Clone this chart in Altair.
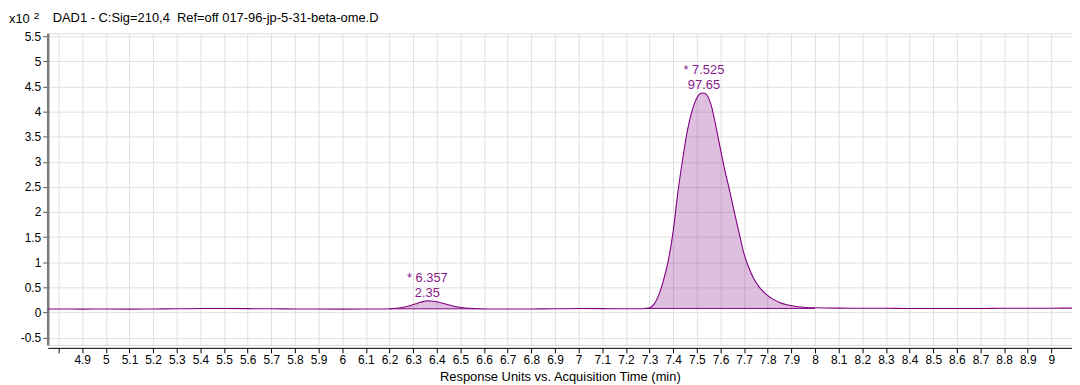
import altair as alt
import pandas as pd

FONT = "Liberation Sans"

# ---- data ----
times = [4.754, 4.80, 4.90, 5.00, 5.10, 5.20, 5.30, 5.40, 5.50, 5.60, 5.70, 5.80, 5.90, 6.00,
         6.10, 6.16, 6.20, 6.23, 6.26, 6.29, 6.32, 6.345, 6.36, 6.375, 6.40, 6.43, 6.46, 6.49,
         6.52, 6.56, 6.62, 6.70, 6.80, 6.90, 7.00, 7.10, 7.20, 7.25, 7.28, 7.30, 7.32, 7.34,
         7.36, 7.38, 7.40, 7.42, 7.44, 7.46, 7.48, 7.50, 7.515, 7.53, 7.545, 7.56, 7.58, 7.60,
         7.62, 7.64, 7.66, 7.68, 7.70, 7.72, 7.74, 7.76, 7.78, 7.80, 7.82, 7.85, 7.88, 7.92,
         7.96, 8.00, 8.10, 8.20, 8.30, 8.40, 8.50, 8.60, 8.70, 8.80, 8.90, 9.00, 9.087]
signal = [0.068, 0.068, 0.066, 0.068, 0.066, 0.070, 0.072, 0.078, 0.080, 0.076, 0.072, 0.070,
          0.068, 0.066, 0.068, 0.070, 0.075, 0.085, 0.105, 0.140, 0.185, 0.220, 0.230, 0.228,
          0.212, 0.180, 0.140, 0.108, 0.088, 0.076, 0.070, 0.068, 0.070, 0.072, 0.078, 0.076,
          0.072, 0.074, 0.080, 0.095, 0.17, 0.36, 0.66, 1.05, 1.62, 2.40, 3.05, 3.62, 4.02,
          4.27, 4.36, 4.37, 4.31, 4.14, 3.72, 3.25, 2.80, 2.40, 1.97, 1.56, 1.16, 0.89, 0.68,
          0.53, 0.42, 0.335, 0.27, 0.20, 0.155, 0.12, 0.10, 0.092, 0.086, 0.084, 0.082, 0.080,
          0.080, 0.078, 0.080, 0.082, 0.084, 0.085, 0.086]

peak_rt = [6.357, 7.525]
peak_area = [2.35, 97.65]
peak_apex_t = [6.36, 7.53]
peak_apex_y = [0.230, 4.37]
peak_start = [6.20, 7.28]
peak_end = [6.56, 8.00]
peak_base = [0.072, 0.080]

x_ticks = [4.8, 4.9, 5.0, 5.1, 5.2, 5.3, 5.4, 5.5, 5.6, 5.7, 5.8, 5.9, 6.0, 6.1, 6.2, 6.3, 6.4,
           6.5, 6.6, 6.7, 6.8, 6.9, 7.0, 7.1, 7.2, 7.3, 7.4, 7.5, 7.6, 7.7, 7.8, 7.9, 8.0, 8.1,
           8.2, 8.3, 8.4, 8.5, 8.6, 8.7, 8.8, 8.9, 9.0]
y_ticks = [-0.5, 0, 0.5, 1, 1.5, 2, 2.5, 3, 3.5, 4, 4.5, 5, 5.5]

title_text = "DAD1 - C:Sig=210,4 \u00a0Ref=off 017-96-jp-5-31-beta-ome.D"
x_title = "Response Units vs. Acquisition Time (min)"

X_DOMAIN = [4.754, 9.087]
Y_DOMAIN = [-0.646, 5.56]

LINE = "#800080"
TEXT = "#8a1a8a"

# ---- tables ----
trace = pd.DataFrame({"t": times, "v": signal})

fill_rows = []
for i in range(len(peak_start)):
    for t, v in zip(times, signal):
        if peak_start[i] <= t <= peak_end[i]:
            fill_rows.append({"t": t, "v": v, "base": peak_base[i], "peak": i})
fills = pd.DataFrame(fill_rows)

labels = pd.DataFrame({
    "t": peak_apex_t,
    "v": peak_apex_y,
    "l1": ["* " + format(r, ".3f") for r in peak_rt],
    "l2": [format(a, ".2f") for a in peak_area],
})

x_scale = alt.Scale(domain=X_DOMAIN, nice=False, zero=False)
y_scale = alt.Scale(domain=Y_DOMAIN, nice=False, zero=False)

x_axis = alt.Axis(
    values=x_ticks, tickCount=len(x_ticks), grid=True, gridColor="#e0e0e0", gridWidth=1,
    domainColor="#000000", domainWidth=1, tickColor="#000000", tickSize=5,
    labelExpr="datum.value < 4.85 ? '' : toString(datum.value)",
    labelFont=FONT, labelFontSize=12, labelColor="#000000", labelPadding=2,
    labelOverlap=False, labelFlush=False, labelBound=False,
    title=x_title, titleFont=FONT, titleFontSize=13, titleFontWeight="normal",
    titleColor="#000000", titlePadding=5, offset=3,
)
y_axis = alt.Axis(
    values=y_ticks, tickCount=len(y_ticks), grid=True, gridColor="#e0e0e0", gridWidth=1,
    domainColor="#7a7a7a", domainWidth=2.5, tickColor="#555555", tickSize=5,
    labelExpr="toString(datum.value)",
    labelFont=FONT, labelFontSize=12, labelColor="#000000", labelPadding=2,
    labelOverlap=False, labelFlush=False, labelBound=False, title="",
)


def xq(field):
    return alt.X(field, type="quantitative", scale=x_scale, axis=x_axis)


def yq(field):
    return alt.Y(field, type="quantitative", scale=y_scale, axis=y_axis)


area = alt.Chart(fills).mark_area(
    color=LINE, opacity=0.25, interpolate="monotone"
).encode(x=xq("t"), y=yq("v"), y2="base:Q", detail="peak:N")

baseline_rule = alt.Chart(pd.DataFrame({
    "t": peak_start, "e": peak_end, "v": peak_base
})).mark_rule(color=LINE, strokeWidth=1).encode(x=xq("t"), x2="e:Q", y=yq("v"))

line = alt.Chart(trace).mark_line(
    color=LINE, strokeWidth=1.1, interpolate="monotone"
).encode(x=xq("t"), y=yq("v"))

lab1 = alt.Chart(labels).mark_text(
    font=FONT, fontSize=13, color=TEXT, align="center", baseline="middle", dy=-23
).encode(x=xq("t"), y=yq("v"), text="l1:N")
lab2 = alt.Chart(labels).mark_text(
    font=FONT, fontSize=13, color=TEXT, align="center", baseline="middle", dy=-8
).encode(x=xq("t"), y=yq("v"), text="l2:N")

head = pd.DataFrame({"t": [title_text], "m": ["x10"], "e": ["2"]})
title_mark = alt.Chart(head).mark_text(
    font=FONT, fontSize=13, color="#000000", align="left", baseline="alphabetic"
).encode(x=alt.value(5), y=alt.value(-11), text="t:N")
mult_mark = alt.Chart(head).mark_text(
    font=FONT, fontSize=13, color="#000000", align="left", baseline="alphabetic"
).encode(x=alt.value(-39), y=alt.value(-10), text="m:N")
exp_mark = alt.Chart(head).mark_text(
    font=FONT, fontSize=10, color="#000000", align="left", baseline="alphabetic"
).encode(x=alt.value(-14), y=alt.value(-14), text="e:N")

chart = alt.layer(
    area, baseline_rule, line, lab1, lab2, title_mark, mult_mark, exp_mark
).properties(
    width=1032, height=314,
    autosize=alt.AutoSizeParams(type="none"),
    padding={"left": 40, "top": 24, "right": 0, "bottom": 39},
).configure_view(stroke="transparent").configure(background="#ffffff")

chart.save("out.html", embed_options={"renderer": "svg", "actions": False})
